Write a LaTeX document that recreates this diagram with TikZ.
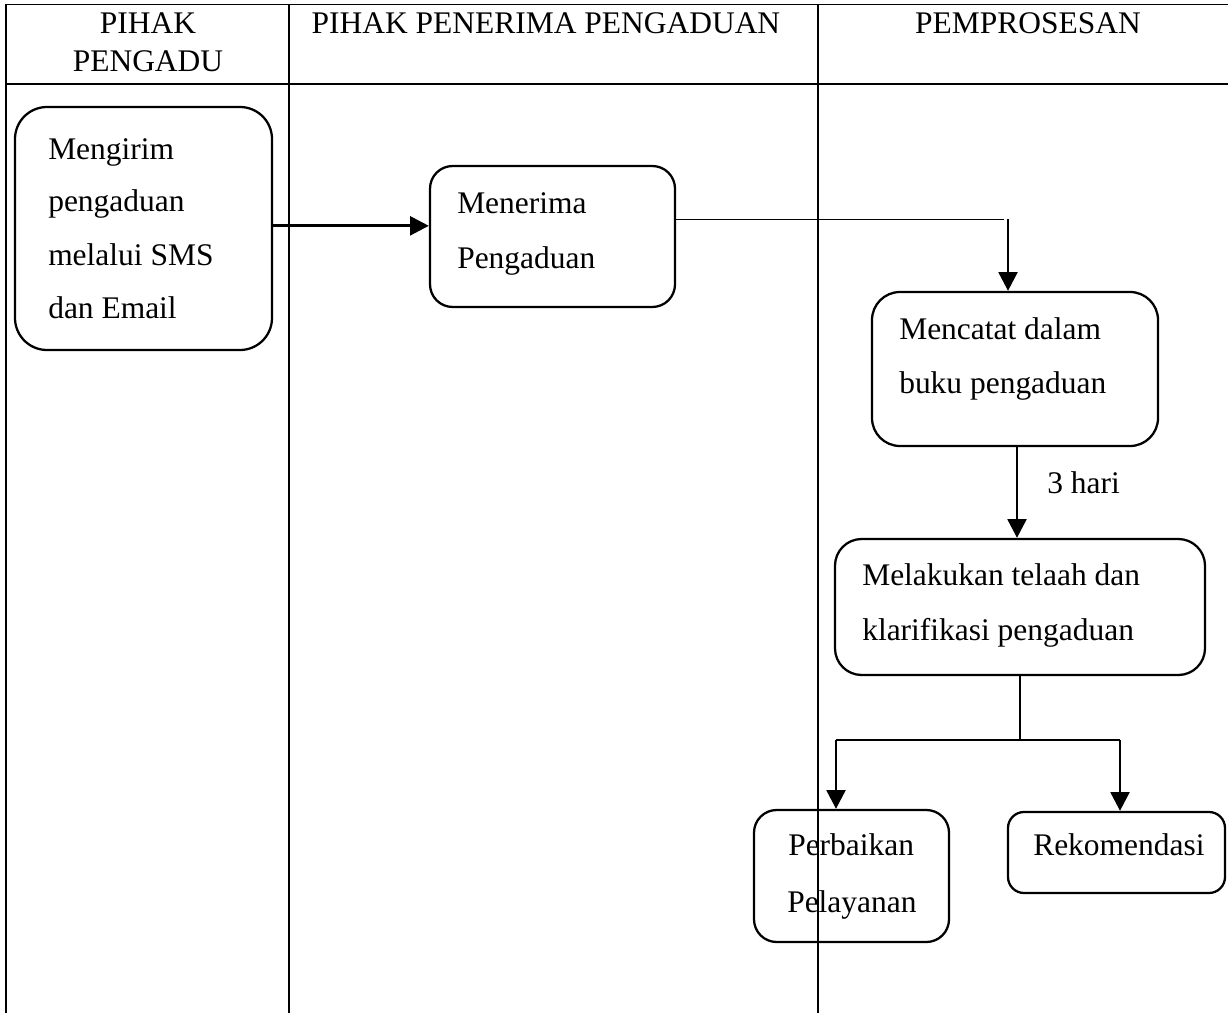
\documentclass[tikz,border=0pt]{standalone}
\usepackage{fontspec}
\setmainfont{Liberation Serif}
\usetikzlibrary{arrows.meta,fit}
\begin{document}
\begin{tikzpicture}[x=0.75pt,y=-0.75pt,
  box/.style={draw, line width=1.7pt, inner sep=0pt, rounded corners=#1},
  box/.default=18pt,
  txt/.style={anchor=base west, inner sep=0pt, font=\fontsize{23.6}{28}\selectfont},
  htxt/.style={anchor=base, inner sep=0pt, font=\fontsize{23.6}{28}\selectfont},
  gridline/.style={line width=1pt},
  thinline/.style={line width=0.8pt},
  arr/.style={line width=2.2pt, -{Triangle[length=14pt,width=14pt]}}]
\useasboundingbox (0,0) rectangle (1228,1013);

% boxes
\node[box=24pt, fit={(15,107) (272,350)}] (b1) {};
\node[box=17pt, fit={(430,166) (675,307)}] (b2) {};
\node[box=21pt, fit={(872,292) (1158,446)}] (b3) {};
\node[box=20pt, fit={(835,539) (1205,675)}] (b4) {};
\node[box=17pt, fit={(754,810) (949,942)}] (b5) {};
\node[box=12pt, fit={(1008,812) (1225,893)}] (b6) {};

% table
\draw[gridline] (6,4.5) -- (1228,4.5);
\draw[gridline] (6,84) -- (1228,84);
\draw[gridline] (6,4.5) -- (6,1013);
\draw[gridline] (289,4.5) -- (289,1013);
\draw[gridline] (818,4.5) -- (818,1013);

% header texts
\node[htxt] (h1a) at (148,34) {PIHAK};
\node[htxt] (h1b) at (148,72) {PENGADU};
\node[htxt] (h2) at (546,34) {PIHAK PENERIMA PENGADUAN};
\node[htxt] (h3) at (1028,34) {PEMPROSESAN};

% box texts
\node[txt] (t1a) at (48,160) {Mengirim};
\node[txt] (t1b) at (48,212) {pengaduan};
\node[txt] (t1c) at (48,265) {melalui SMS};
\node[txt] (t1d) at (48,318) {dan Email};
\node[txt] (t2a) at (457,214) {Menerima};
\node[txt] (t2b) at (457,268) {Pengaduan};
\node[txt] (t3a) at (899,339) {Mencatat dalam};
\node[txt] (t3b) at (899,393) {buku pengaduan};
\node[txt] (t4a) at (862,585) {Melakukan telaah dan};
\node[txt] (t4b) at (862,640) {klarifikasi pengaduan};
\node[txt] (t5a) at (788,855) {Perbaikan};
\node[txt] (t5b) at (787,912) {Pelayanan};
\node[txt] (t6) at (1033,855) {Rekomendasi};
\node[txt] (lab) at (1047,493) {3 hari};

% connectors
\draw[arr] ([yshift=2pt]b1.east) -- ([yshift=2pt]b1.east -| b2.west);
\coordinate (c1) at (1008,219);
\draw[thinline] ([yshift=13pt]b2.east) -- ([yshift=13pt]b2.east -| 1004,0);
\draw[arr] (c1) -- (c1 |- b3.north);
\draw[arr] (1017,446) coordinate (c2) -- (c2 |- b4.north);
\coordinate (j) at (1020,740);
\coordinate (L) at (836,740);
\coordinate (R) at (1120,740);
\draw[thinline] (b4.south) -- (j);
\draw[thinline] (L) -- (R);
\draw[arr] (L) -- (L |- b5.north);
\draw[arr] (R) -- (R |- b6.north);
\end{tikzpicture}
\end{document}
